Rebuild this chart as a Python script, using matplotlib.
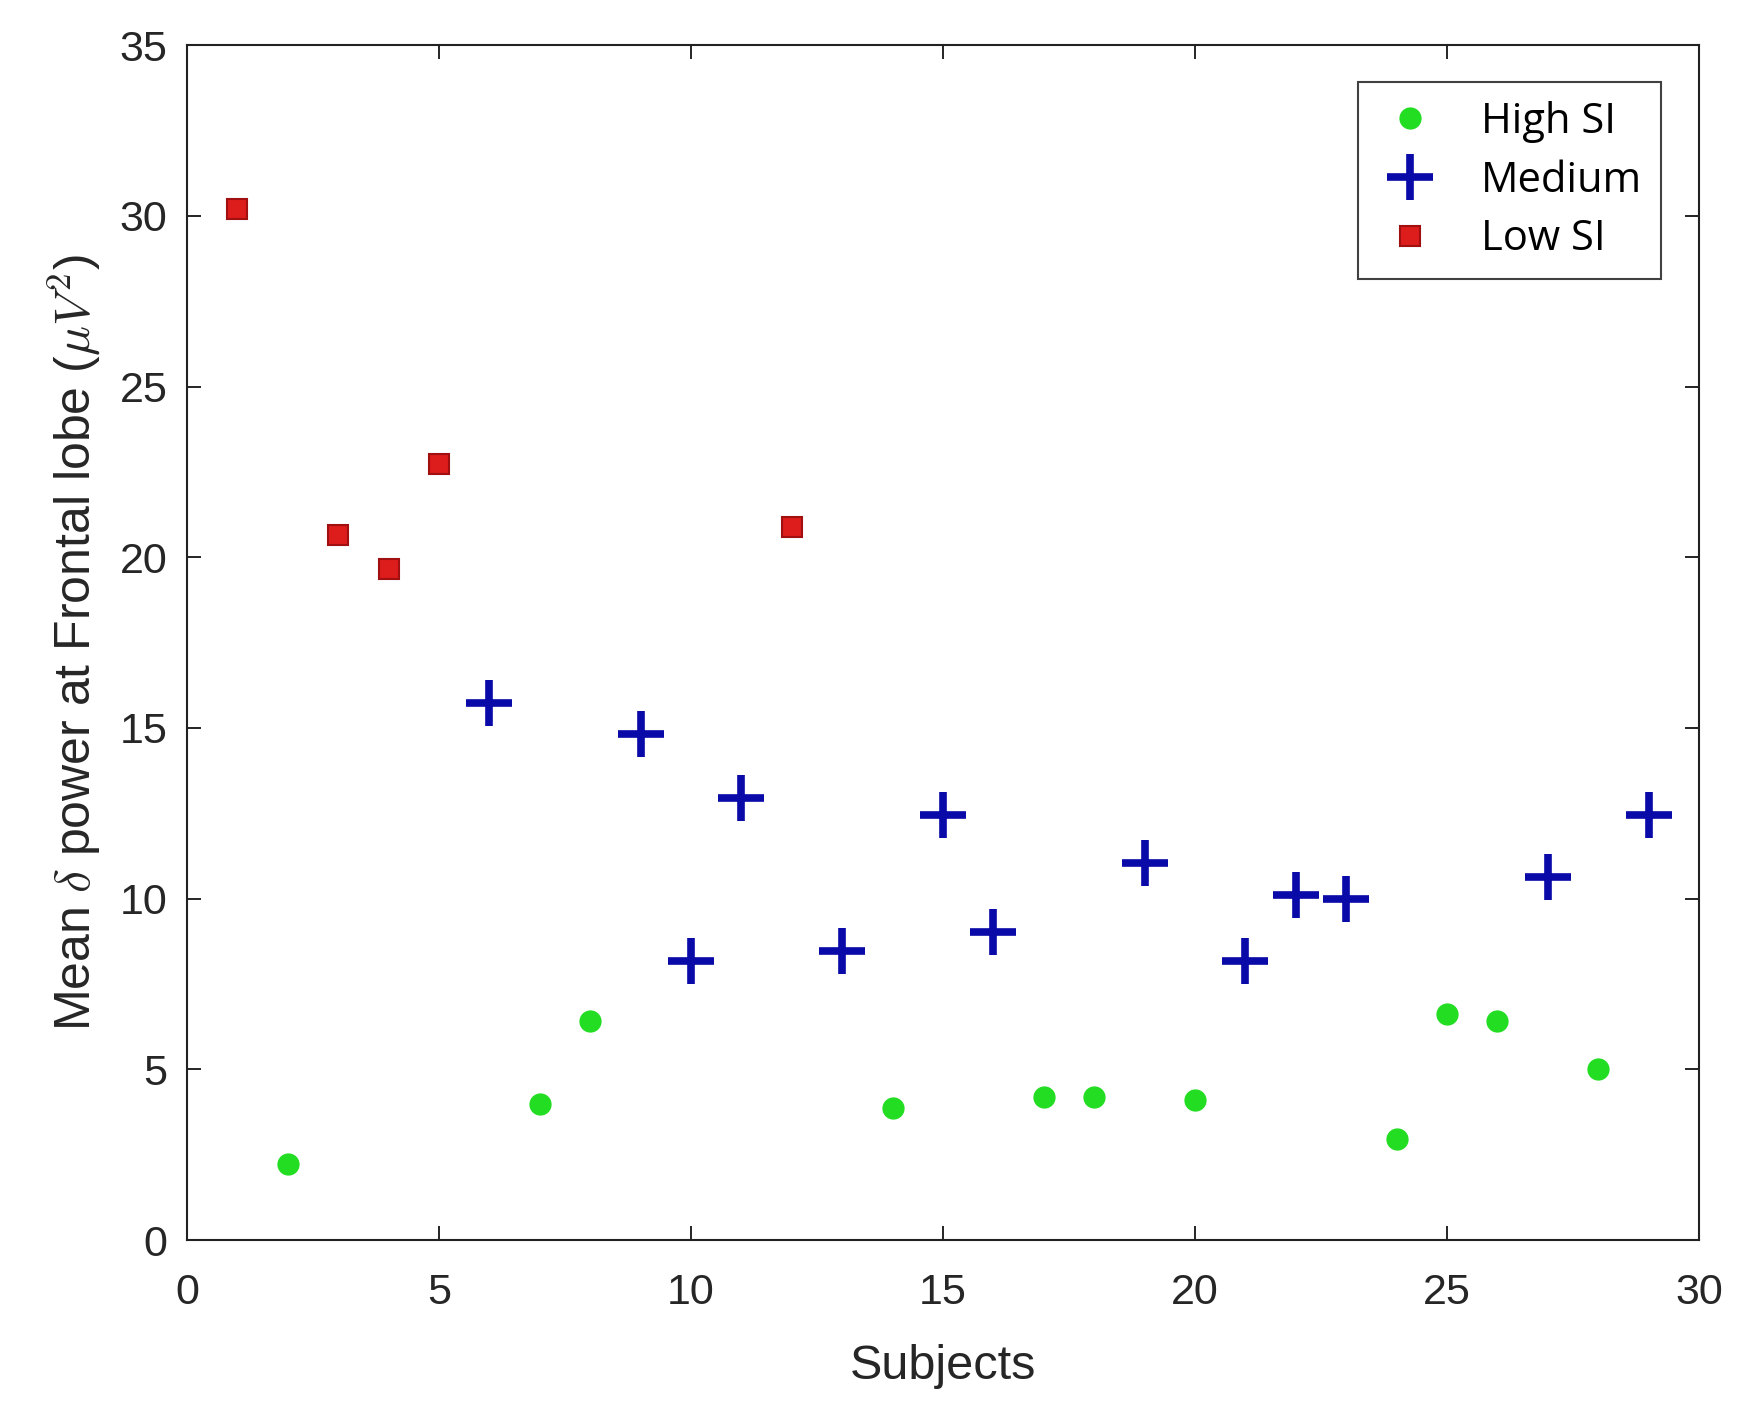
import matplotlib
matplotlib.use("Agg")
import matplotlib.pyplot as plt

plt.rcParams['font.family'] = ['Liberation Sans', 'DejaVu Sans']
plt.rcParams['mathtext.fontset'] = 'cm'

# Data
high_x = [2, 7, 8, 14, 17, 18, 20, 24, 25, 26, 28]
high_y = [2.23, 3.97, 6.43, 3.87, 4.2, 4.2, 4.1, 2.95, 6.63, 6.43, 5.02]
med_x = [6, 9, 10, 11, 13, 15, 16, 19, 21, 22, 23, 27, 29]
med_y = [15.74, 14.82, 8.17, 12.96, 8.46, 12.46, 9.02, 11.05, 8.17, 10.1, 10.0, 10.63, 12.46]
low_x = [1, 3, 4, 5, 12]
low_y = [30.2, 20.66, 19.65, 22.73, 20.9]
labels = ['High SI', 'Medium', 'Low SI']
xticks = [0, 5, 10, 15, 20, 25, 30]
yticks = [0, 5, 10, 15, 20, 25, 30, 35]

fig = plt.figure(figsize=(17.56, 14.12), dpi=100)
ax = fig.add_axes([0.1065, 0.1218, 0.861, 0.8462])

ax.plot(high_x, high_y, linestyle='none', marker='o', markersize=15,
        color='#22dd22', markeredgecolor='#22dd22', label=labels[0])
ax.plot(med_x, med_y, linestyle='none', marker='+', markersize=33,
        markeredgewidth=5.5, color='#0a0aa8', label=labels[1])
ax.plot(low_x, low_y, linestyle='none', marker='s', markersize=15,
        color='#dd1c1c', markeredgecolor='#a01010', markeredgewidth=1.5,
        label=labels[2])

ax.set_xlim(0, 30)
ax.set_ylim(0, 35)
ax.set_xticks(xticks)
ax.set_yticks(yticks)
ax.tick_params(direction='in', length=10, width=1.2, labelsize=31,
               labelcolor='#262626', top=True, right=True)
ax.tick_params(axis='x', pad=24)
ax.tick_params(axis='y', pad=14)
for s in ax.spines.values():
    s.set_linewidth(1.5)
    s.set_color('#222222')

ax.set_xlabel('Subjects', fontsize=35, color='#262626', labelpad=22)
ax.set_ylabel(r'Mean $\delta$ power at Frontal lobe ($\mu V^2$)',
              fontsize=36, color='#262626', labelpad=12)

leg = ax.legend(loc='upper right', bbox_to_anchor=(0.975, 0.969),
                borderaxespad=0, frameon=True, fancybox=False,
                edgecolor='#111111', handlelength=1.6, handletextpad=0.9,
                borderpad=0.45, labelspacing=0.4,
                prop={'family': 'Open Sans', 'size': 30})
leg.get_frame().set_linewidth(1.5)

fig.savefig('out.png', dpi=100, facecolor='white')
